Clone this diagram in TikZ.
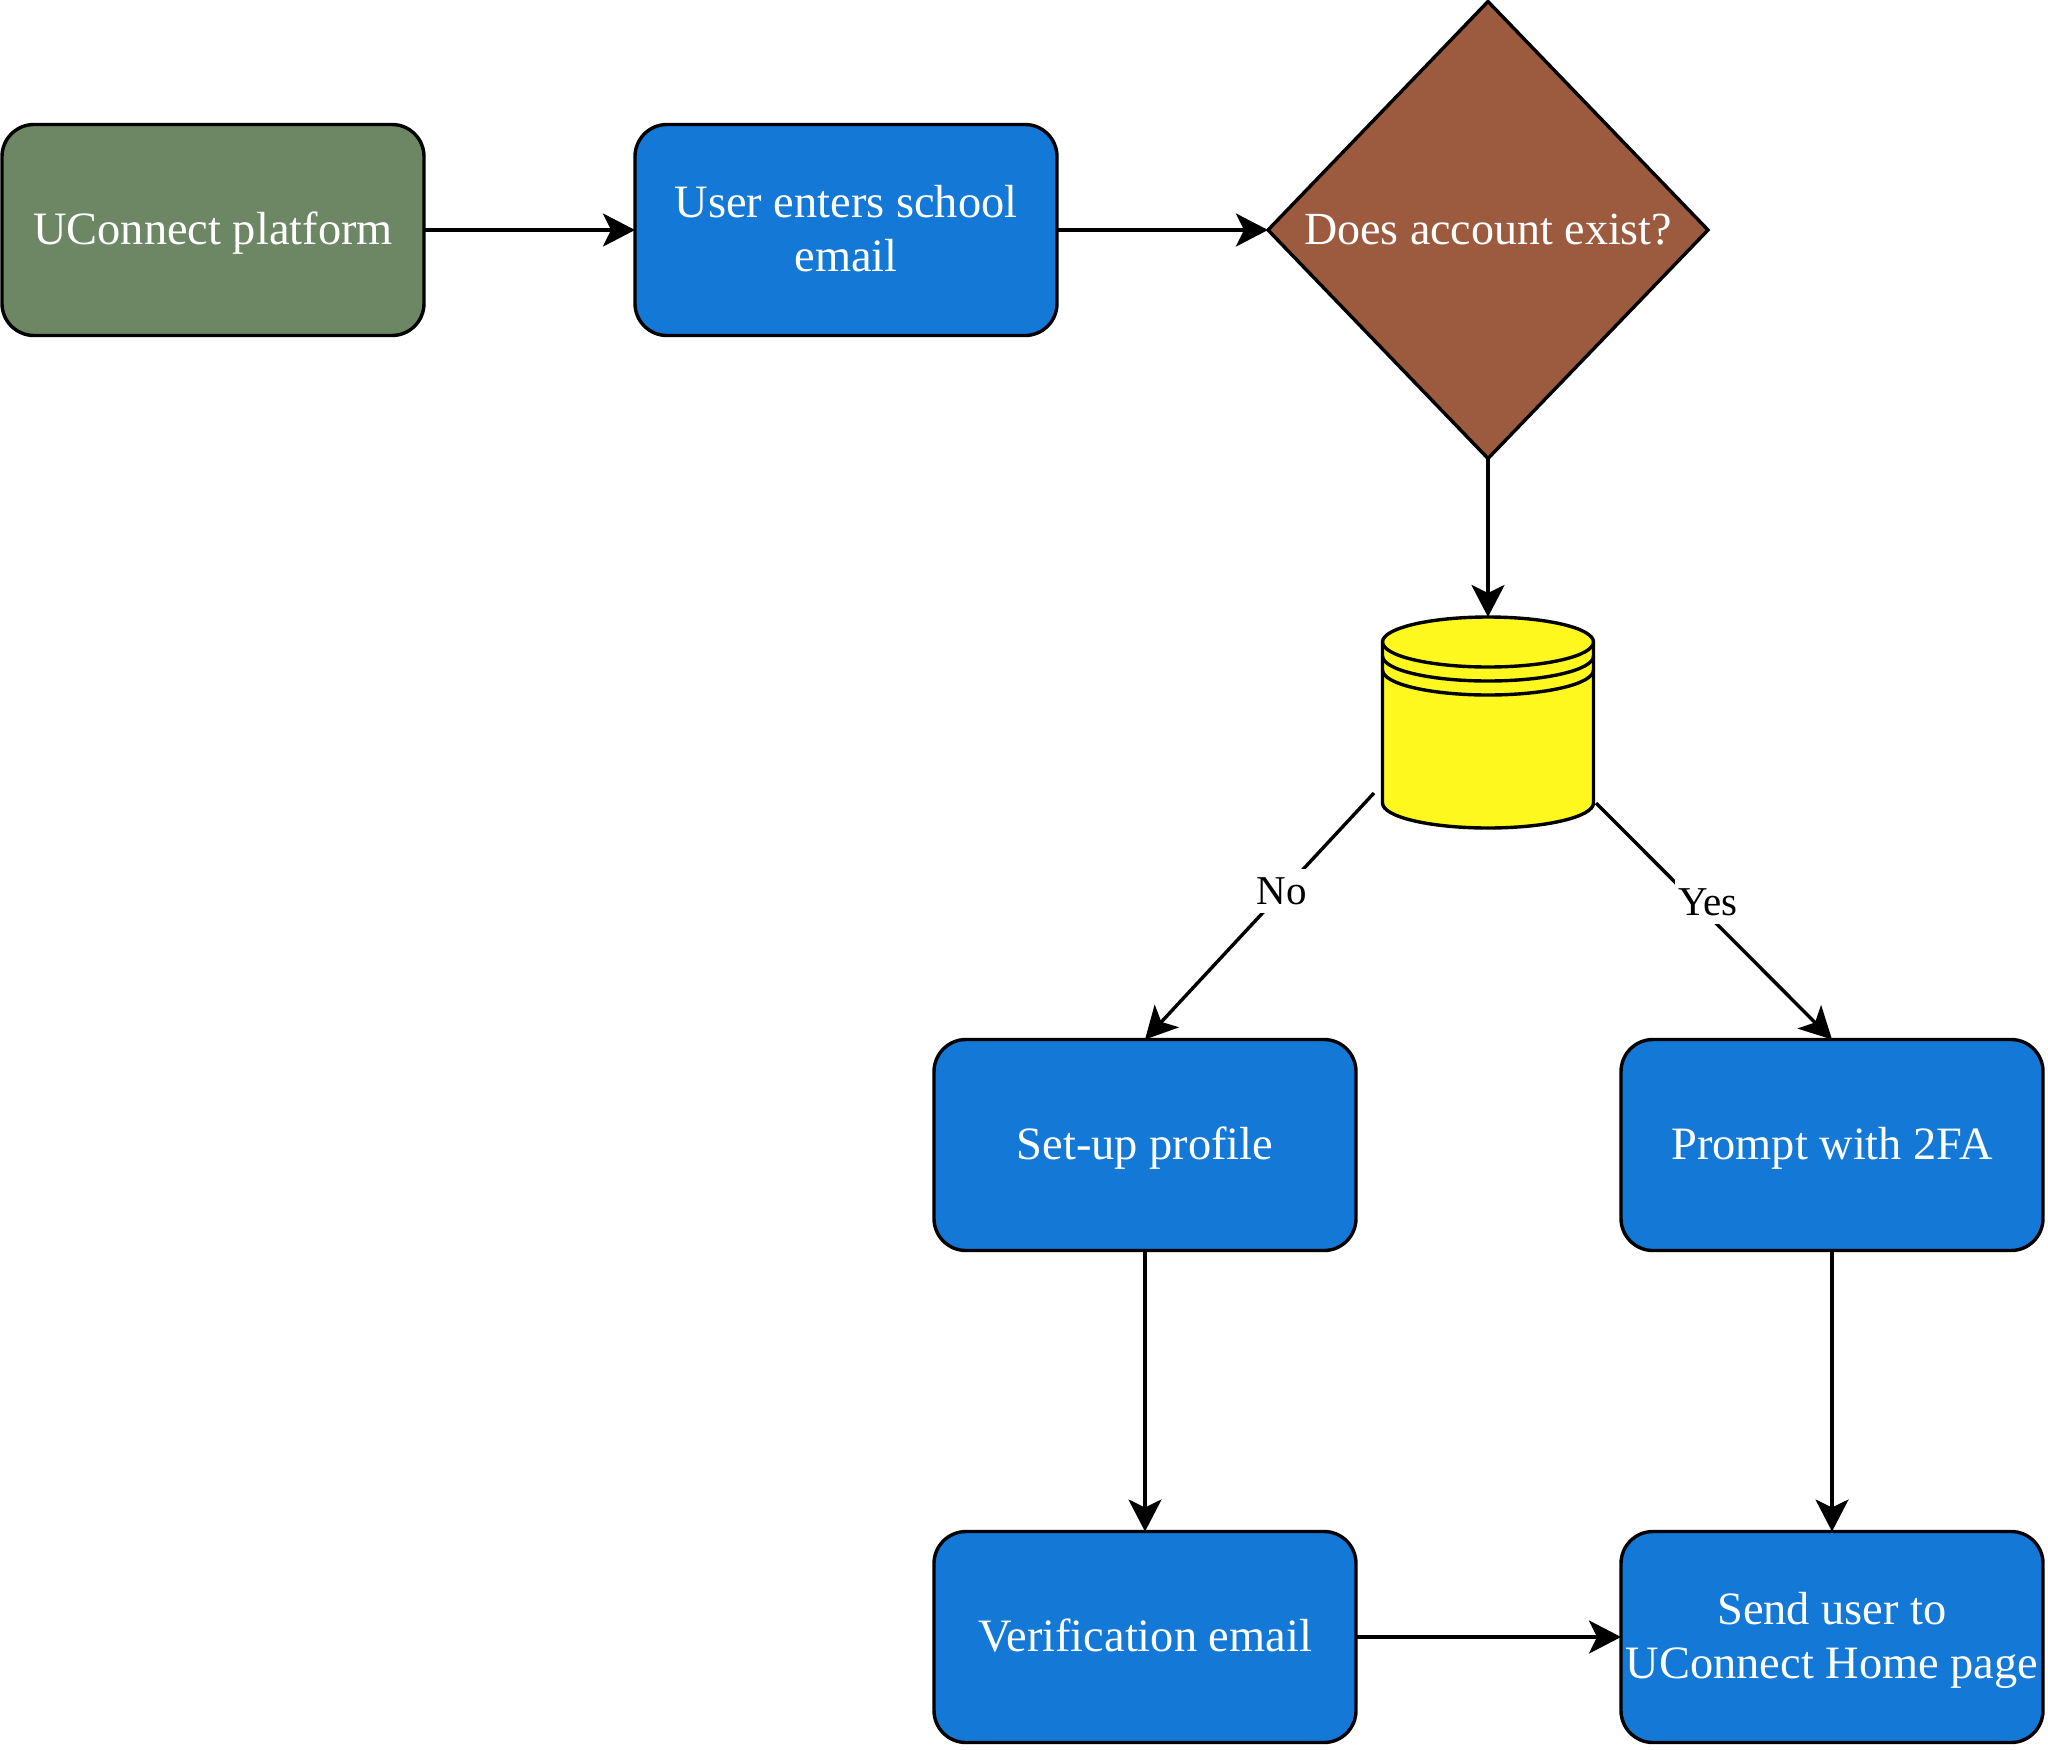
\documentclass[tikz,border=0pt]{standalone}
\usepackage{fontspec}
\setmainfont{Liberation Serif}
\usetikzlibrary{arrows.meta,shapes.geometric}
\definecolor{bluebox}{HTML}{1478D6}
\definecolor{greenbox}{HTML}{6D8764}
\definecolor{brownbox}{HTML}{9C5B3F}
\definecolor{yellowdb}{HTML}{FFF81F}
\newcommand{\boxstrut}{\rule[-12pt]{0pt}{53pt}}
\tikzset{
  x=1pt,y=-1pt,
  every node/.style={outer sep=0pt,inner sep=0pt},
  flowbox/.style={draw=black,line width=3.4pt,rounded corners=32pt,minimum width=422pt,minimum height=211pt,
    text=white,align=center,font=\fontsize{46.4}{52}\selectfont},
  bluenode/.style={flowbox,fill=bluebox},
  greennode/.style={flowbox,fill=greenbox},
  decision/.style={diamond,aspect=0.963,draw=black,line width=3.4pt,fill=brownbox,minimum width=440pt,minimum height=457pt,
    text=white,font=\fontsize{46}{52}\selectfont},
  conn/.style={line width=3.4pt,draw=black,-{Stealth[length=32pt,width=33pt,inset=8pt]}},
  edgelabel/.style={fill=white,text=black,font=\fontsize{41}{46}\selectfont,inner xsep=3pt,inner ysep=8pt},
  dbline/.style={draw=black,line width=3.4pt}
}
\begin{document}
\begin{tikzpicture}
\useasboundingbox (0,0) rectangle (2048,1749);
\node[greennode] (platform) at (213,230) {\boxstrut UConnect platform};
\node[bluenode] (email) at (846,230) {\boxstrut User enters school\\[0pt]\boxstrut email};
\node[decision] (exist) at (1488,230) {Does account exist?};
\node[minimum width=212pt,minimum height=211pt] (db) at (1488,722.5) {};
\node[bluenode] (setup) at (1145,1145) {\boxstrut Set-up profile};
\node[bluenode] (prompt) at (1832,1145) {\boxstrut Prompt with 2FA};
\node[bluenode] (verify) at (1145,1637) {\boxstrut Verification email};
\node[bluenode] (home) at (1832,1637) {\boxstrut Send user to\\[0pt]\boxstrut UConnect Home page};
% database cylinder
\path[dbline,fill=yellowdb] (1382.5,642) -- (1382.5,803)
  arc[start angle=180,end angle=0,x radius=105.5,y radius=25]
  -- (1593.5,642)
  arc[start angle=0,end angle=-180,x radius=105.5,y radius=25] -- cycle;
\draw[dbline] (1382.5,642) arc[start angle=180,end angle=0,x radius=105.5,y radius=25];
\draw[dbline] (1382.5,656) arc[start angle=180,end angle=0,x radius=105.5,y radius=25];
\draw[dbline] (1382.5,670) arc[start angle=180,end angle=0,x radius=105.5,y radius=25];
\coordinate (noStart) at (1374,793);
\coordinate (yesStart) at (1596,803);
\draw[conn] (platform) -- (email);
\draw[conn] (email) -- (exist);
\draw[conn] (exist) -- (db.north);
\draw[conn] (noStart) -- (setup.north);
\draw[conn] (yesStart) -- (prompt.north);
\draw[conn] (setup) -- (verify);
\draw[conn] (prompt) -- (home);
\draw[conn] (verify) -- (home);
\node[edgelabel] (nolabel) at (1282,891) {No};
\node[edgelabel] (yeslabel) at (1708,902) {Yes};
\end{tikzpicture}
\end{document}
